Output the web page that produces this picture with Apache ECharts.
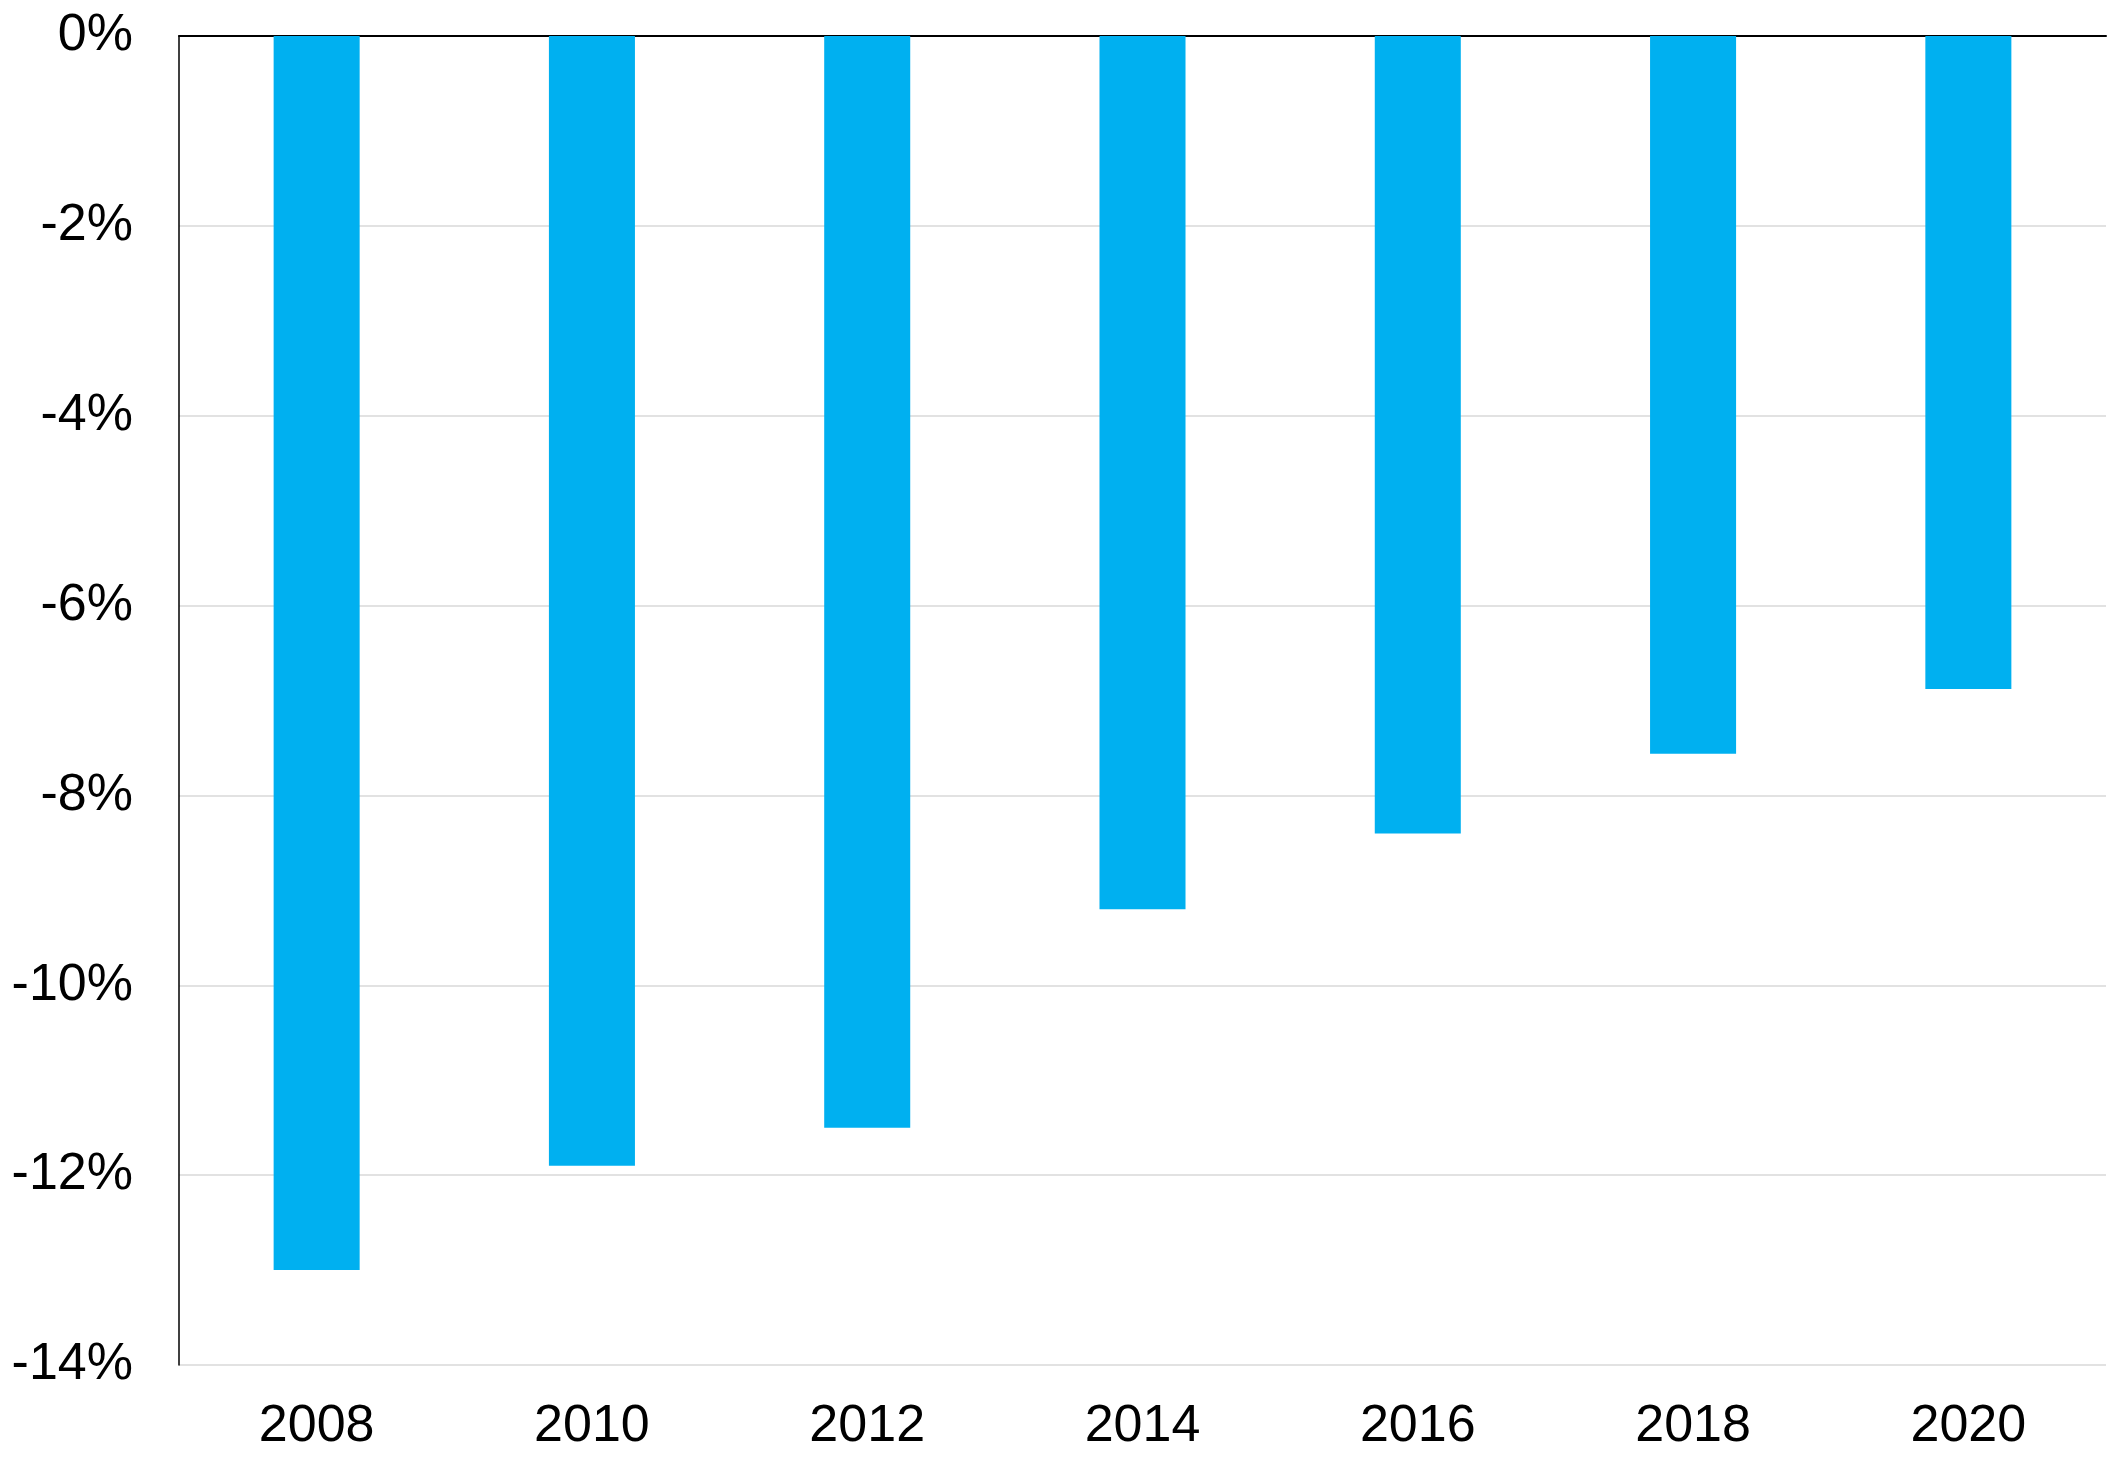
<!DOCTYPE html>
<html>
<head>
<meta charset="utf-8">
<script src="https://cdn.jsdelivr.net/npm/echarts@6/dist/echarts.min.js"></script>
<style>
html,body{margin:0;padding:0;background:#fff;}
#chart{width:2120px;height:1465px;}
</style>
</head>
<body>
<div id="chart"></div>
<script>
const categories = ['2008','2010','2012','2014','2016','2018','2020'];
const values = [-13.0, -11.9, -11.5, -9.2, -8.4, -7.56, -6.88];
const yMin = -14, yMax = 0, yStep = 2;

const chart = echarts.init(document.getElementById('chart'), null, {renderer: 'canvas'});
const font = 'Liberation Sans, Arial, sans-serif';
chart.setOption({
  animation: false,
  backgroundColor: '#ffffff',
  grid: {left: 179, top: 36, right: 14, bottom: 100, containLabel: false},
  xAxis: [{
    type: 'category',
    data: categories,
    position: 'bottom',
    axisLine: {show: false, onZero: false},
    axisTick: {show: false},
    axisLabel: {color: '#000', fontSize: 52, fontFamily: font, margin: 36}
  }, {
    type: 'category',
    data: categories,
    position: 'top',
    axisLine: {show: true, onZero: false, lineStyle: {color: '#000', width: 2}},
    axisTick: {show: false},
    axisLabel: {show: false}
  }],
  yAxis: {
    type: 'value',
    min: yMin, max: yMax, interval: yStep,
    axisLine: {show: true, lineStyle: {color: '#000', width: 1.5}},
    axisTick: {show: false},
    axisLabel: {color: '#000', fontSize: 52, fontFamily: font, margin: 46,
      formatter: v => v + '%'},
    splitLine: {show: true, lineStyle: {color: '#d9d9d9', width: 1.5}}
  },
  series: [{
    type: 'bar',
    data: values,
    barWidth: '31.25%',
    itemStyle: {color: '#00B0F0'}
  }]
});
</script>
</body>
</html>
